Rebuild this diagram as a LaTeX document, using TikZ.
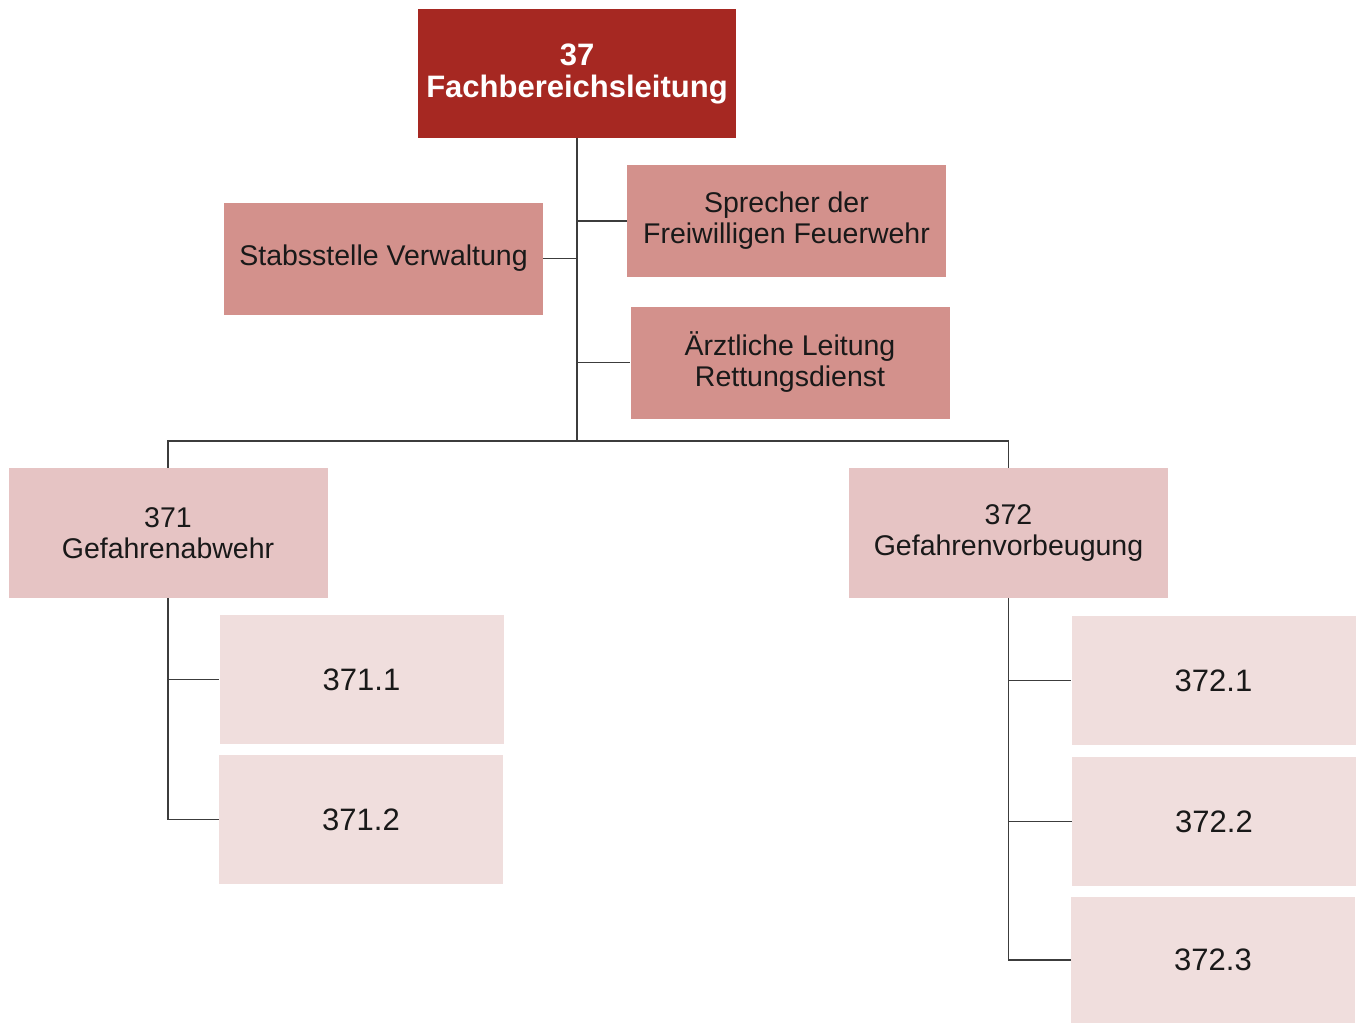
\documentclass[tikz,border=0pt]{standalone}
\usepackage{fontspec}
\setmainfont{Liberation Sans}

\definecolor{leadred}{RGB}{166,40,34}
\definecolor{staffrose}{RGB}{211,145,140}
\definecolor{deptrose}{RGB}{230,196,196}
\definecolor{unitrose}{RGB}{240,222,221}
\definecolor{linegray}{RGB}{60,60,60}

\newcommand{\boxw}{319}
\newcommand{\unitw}{284}

\tikzset{
  orgbox/.style={rectangle, inner sep=0pt, align=center, text=black!90,
    font=\fontsize{28.5}{31}\selectfont},
  topbox/.style={orgbox, fill=leadred, text=white, minimum width=318pt,
    minimum height=129pt, font=\fontsize{31}{32}\selectfont\bfseries},
  staffbox/.style={orgbox, fill=staffrose, minimum width=\boxw pt, minimum height=112pt},
  deptbox/.style={orgbox, fill=deptrose, minimum width=\boxw pt, minimum height=130pt},
  unitbox/.style={orgbox, fill=unitrose, minimum width=\unitw pt, minimum height=129pt,
    font=\fontsize{31}{33}\selectfont},
  link/.style={draw=linegray, line width=1.5pt}
}

\begin{document}
\begin{tikzpicture}[x=1pt, y=-1pt]
  \useasboundingbox (0,0) rectangle (1357,1023);

  % head and staff positions
  \node[topbox]   (fbl)      at (577,73.5)   {37\\Fachbereichsleitung};
  \node[staffbox] (stab)     at (383.5,258.5) {Stabsstelle Verwaltung};
  \node[staffbox] (sprecher) at (786.5,221)  {Sprecher der\\Freiwilligen Feuerwehr};
  \node[staffbox] (arzt)     at (790,362.5)  {Ärztliche Leitung\\Rettungsdienst};
  \coordinate (bus) at (577,441);

  % departments
  \node[deptbox] (ga) at (168,533)    {371\\Gefahrenabwehr};
  \node[deptbox] (gv) at (1008.5,533) {372\\Gefahrenvorbeugung};

  % units
  \node[unitbox] (ga1) at (361.5,679.5)  {371.1};
  \node[unitbox] (ga2) at (361,819.5)    {371.2};
  \node[unitbox] (gv1) at (1213.5,680.5) {372.1};
  \node[unitbox] (gv2) at (1214,821.5)   {372.2};
  \node[unitbox, minimum height=126pt] (gv3) at (1213,960) {372.3};

  \draw[link] (fbl.south) -- (bus);
  \draw[link] (stab.east) -- (stab.east -| fbl.south);
  \draw[link] (sprecher.west -| fbl.south) -- (sprecher.west);
  \draw[link] (arzt.west -| fbl.south) -- (arzt.west);
  \draw[link] (ga.north) |- (bus) -| (gv.north);

  \foreach \u in {ga1,ga2}
    \draw[link] (ga.south) |- (\u.west);
  \foreach \u in {gv1,gv2,gv3}
    \draw[link] (gv.south) |- (\u.west);
\end{tikzpicture}
\end{document}
